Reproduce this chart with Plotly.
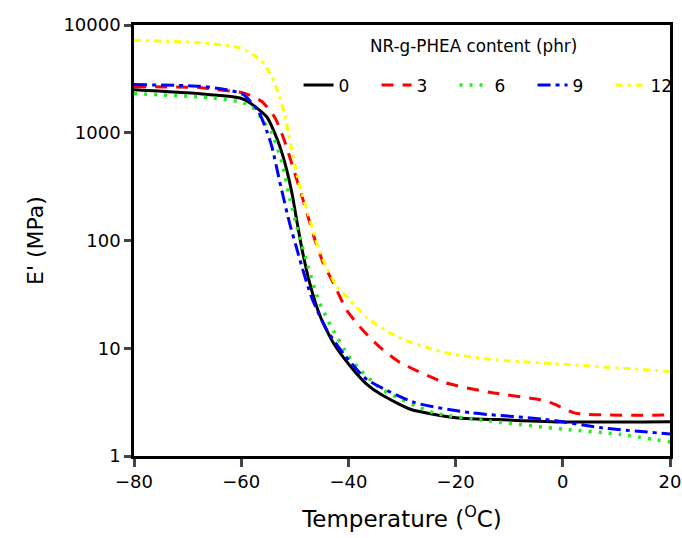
import plotly.graph_objects as go

# Storage modulus E' (MPa) vs temperature for each NR-g-PHEA loading
temp_0 = [-80, -67.7, -60.2, -58.4, -55.2, -53.4, -52.4, -51.5, -50.5, -49.6, -48.7, -47.2, -45.3, -42.8, -39.4, -36.5, -33.8, -28.3, -19.9, -10.2, 0.2, 20]
e_0 = [2500, 2300, 2100, 1900, 1400, 900, 650, 450, 270, 150, 85, 40, 20, 11.2, 6.6, 4.6, 3.7, 2.7, 2.27, 2.16, 2.07, 2.08]

temp_3 = [-80, -67.7, -64.6, -59.6, -56.2, -53.7, -52.1, -50.6, -48.1, -46.2, -44.7, -42.5, -40.3, -37.2, -34.1, -30.4, -22, -13.7, -4.7, -1.9, 2.3, 20]
e_3 = [2670, 2630, 2510, 2345, 1960, 1377, 890, 525, 208, 100, 62, 37.6, 22.5, 14.5, 10.2, 7.4, 4.8, 3.9, 3.36, 3.08, 2.5, 2.4]

temp_6 = [-80, -65.2, -59.6, -57.4, -55.9, -54.3, -52.4, -50.9, -49.3, -47.5, -45.6, -43.1, -40, -38.2, -33.8, -24.1, -13.7, 0.2, 10.6, 20]
e_6 = [2310, 2100, 1900, 1645, 1280, 1000, 525, 240, 117, 57, 28, 15.5, 8.5, 6.6, 4.16, 2.52, 2.11, 1.77, 1.59, 1.35]

temp_9 = [-80, -67.7, -62.7, -59.6, -56.8, -55.2, -54.3, -52.6, -50.9, -49.8, -48.8, -46.9, -44.1, -40.6, -36.6, -27.6, -17.2, -3.3, 7.2, 20]
e_9 = [2800, 2700, 2510, 2265, 1585, 1025, 750, 316, 140, 90, 60, 30, 15, 8.5, 5.15, 3.13, 2.52, 2.19, 1.83, 1.6]

temp_12 = [-80, -67.7, -60.2, -56.5, -54.3, -53.1, -51.8, -51.2, -49.3, -47.4, -45.6, -44.7, -42.2, -39.7, -36.6, -32.2, -28.8, -22, -13.7, 0.2, 20]
e_12 = [7220, 6840, 6140, 4790, 3350, 2345, 1420, 1000, 355, 168, 85, 66, 37.6, 28, 19.3, 13.8, 11.6, 9.1, 7.9, 7.1, 6.1]

series = [
    ("0", temp_0, e_0, "#000000", "solid", 3),
    ("3", temp_3, e_3, "#FF0000", "12px,9px", 3),
    ("6", temp_6, e_6, "#22EE22", "3px,7px", 3.5),
    ("9", temp_9, e_9, "#0000FF", "13px,5px,4px,5px", 3),
    ("12", temp_12, e_12, "#FFFF00", "7px,5px,3px,5px", 3),
]

x_ticks = [-80, -60, -40, -20, 0, 20]
y_ticks = [1, 10, 100, 1000, 10000]

fig = go.Figure()
for name, t, e, color, dash, width in series:
    fig.add_trace(go.Scatter(
        x=t, y=e, name=name, mode="lines",
        line=dict(color=color, dash=dash, width=width, shape="spline", smoothing=0.6),
    ))

font = "DejaVu Sans"
fig.update_layout(
    width=682, height=538,
    margin=dict(l=134, r=12, t=25, b=82, autoexpand=False),
    paper_bgcolor="white", plot_bgcolor="white",
    font=dict(family=font, color="black", size=18),
    xaxis=dict(
        range=[-80, 20], tickvals=x_ticks, ticks="outside", ticklen=8, tickwidth=2.5,
        showline=True, linewidth=2.5, linecolor="black", mirror=True, showgrid=False,
        zeroline=False, tickfont=dict(size=18), automargin=False,
        title=dict(text="Temperature (<sup>O</sup>C)", font=dict(size=23), standoff=20),
    ),
    yaxis=dict(
        type="log", range=[0, 4], tickvals=y_ticks, ticktext=[str(v) for v in y_ticks],
        ticks="outside", ticklen=7, tickwidth=2.5,
        showline=True, linewidth=2.5, linecolor="black", mirror=True, showgrid=False,
        zeroline=False, tickfont=dict(size=18), automargin=False,
        title=dict(text="E' (MPa)", font=dict(size=22), standoff=14),
    ),
    legend=dict(
        orientation="h", x=0.307, xanchor="left", y=0.860, yanchor="middle",
        bgcolor="rgba(0,0,0,0)", font=dict(size=17),
        entrywidth=33, entrywidthmode="pixels", itemwidth=30,
    ),
    annotations=[dict(
        text="NR-g-PHEA content (phr)", x=0.634, y=0.952, xref="paper", yref="paper",
        xanchor="center", yanchor="middle", showarrow=False, font=dict(size=16.8),
    )],
)

fig.write_html("out.html")
